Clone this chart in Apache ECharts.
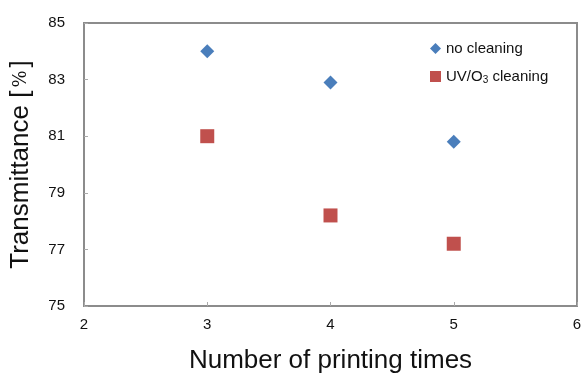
<!DOCTYPE html>
<html>
<head>
<meta charset="utf-8">
<script src="https://cdn.jsdelivr.net/npm/echarts@6/dist/echarts.min.js"></script>
<style>
  html, body { margin: 0; padding: 0; background: #fff; }
  #chart { width: 582px; height: 376px; }
</style>
</head>
<body>
<div id="chart"></div>
<script>
const printTimes = [3, 4, 5]
const noCleaning = [84.0, 82.9, 80.8]
const uvCleaning = [81.0, 78.2, 77.2]

const font = 'Liberation Sans, Arial, sans-serif'

const chart = echarts.init(document.getElementById('chart'))

chart.setOption({
  animation: false,
  backgroundColor: '#fff',
  grid: {
    left: 84, right: 5, top: 23, bottom: 70,
    outerBoundsMode: 'none',
    show: true,
    borderColor: '#8c8c8c',
    borderWidth: 2
  },
  legend: {
    orient: 'vertical',
    left: 425,
    top: 36,
    itemWidth: 11,
    itemHeight: 11,
    itemGap: 13,
    textStyle: {
      fontFamily: font, fontSize: 15, color: '#111',
      rich: {
        a: { fontFamily: font, fontSize: 15, color: '#111' },
        s: { fontFamily: font, fontSize: 10, color: '#111', verticalAlign: 'bottom', padding: [8, 0, 0, 0] }
      }
    },
    formatter: name => name === 'UV/O3 cleaning' ? '{a|UV/O}{s|3}{a| cleaning}' : name,
    data: [
      { name: 'no cleaning', icon: 'diamond' },
      { name: 'UV/O3 cleaning', icon: 'rect' }
    ]
  },
  xAxis: {
    type: 'value',
    min: 2, max: 6, interval: 1,
    name: 'Number of printing times',
    nameLocation: 'middle',
    nameGap: 42,
    nameTextStyle: { fontFamily: font, fontSize: 26, color: '#111' },
    axisLine: { show: true, lineStyle: { color: '#8c8c8c', width: 2 } },
    axisTick: { show: true, inside: true, length: 4, lineStyle: { color: '#aaa' } },
    axisLabel: { fontFamily: font, fontSize: 15, color: '#111', margin: 11 },
    splitLine: { show: false }
  },
  yAxis: {
    type: 'value',
    min: 75, max: 85, interval: 2,
    name: '{a|Transmittance [}{p|%}{a|]}',
    nameLocation: 'middle',
    nameGap: 50,
    nameTextStyle: {
      fontFamily: font, fontSize: 26, color: '#111',
      rich: {
        a: { fontFamily: font, fontSize: 26, color: '#111' },
        p: { fontFamily: 'DejaVu Serif, serif', fontSize: 18, color: '#111', padding: [0, 3, 0, 3] }
      }
    },
    axisLine: { show: true, lineStyle: { color: '#8c8c8c', width: 2 } },
    axisTick: { show: true, inside: true, length: 4, lineStyle: { color: '#aaa' } },
    axisLabel: { fontFamily: font, fontSize: 15, color: '#111', margin: 19 },
    splitLine: { show: false }
  },
  series: [
    {
      name: 'no cleaning',
      type: 'scatter',
      symbol: 'diamond',
      symbolSize: [14, 14],
      itemStyle: { color: '#4a7ebb', opacity: 1 },
      data: printTimes.map((x, i) => [x, noCleaning[i]])
    },
    {
      name: 'UV/O3 cleaning',
      type: 'scatter',
      symbol: 'rect',
      symbolSize: [14, 14],
      itemStyle: { color: '#c0504d', opacity: 1 },
      data: printTimes.map((x, i) => [x, uvCleaning[i]])
    }
  ]
})
</script>
</body>
</html>
